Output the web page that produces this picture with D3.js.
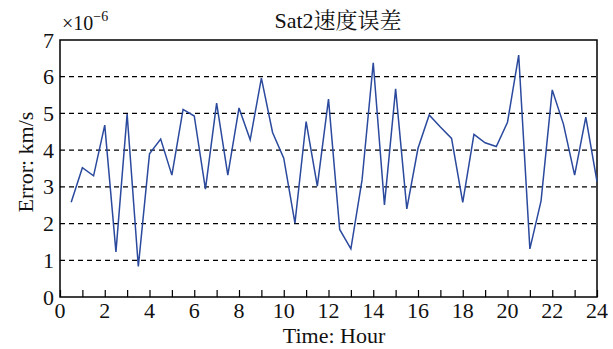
<!DOCTYPE html>
<html>
<head>
<meta charset="utf-8">
<script src="https://cdn.jsdelivr.net/npm/d3@7"></script>
<style>
  html, body { margin: 0; padding: 0; background: #fff; }
  svg { display: block; }
</style>
</head>
<body>
<svg id="chart" width="613" height="349"></svg>
<script>
// Sampling times (hours) and velocity error (×10^-6 km/s)
const hours = [0.5, 1, 1.5, 2, 2.5, 3, 3.5, 4, 4.5, 5, 5.5, 6, 6.5, 7, 7.5, 8,
  8.5, 9, 9.5, 10, 10.5, 11, 11.5, 12, 12.5, 13, 13.5, 14, 14.5, 15, 15.5, 16,
  16.5, 17, 17.5, 18, 18.5, 19, 19.5, 20, 20.5, 21, 21.5, 22, 22.5, 23, 23.5, 24];
const errors = [2.58, 3.52, 3.30, 4.68, 1.23, 4.98, 0.83, 3.90, 4.30, 3.32, 5.11, 4.93,
  2.94, 5.28, 3.32, 5.15, 4.28, 5.96, 4.48, 3.78, 2.01, 4.78, 3.02, 5.39,
  1.84, 1.31, 3.19, 6.38, 2.51, 5.67, 2.40, 4.05, 4.96, 4.63, 4.32, 2.58,
  4.43, 4.20, 4.10, 4.76, 6.59, 1.31, 2.62, 5.64, 4.71, 3.32, 4.90, 3.14];
const xTicks = [0, 2, 4, 6, 8, 10, 12, 14, 16, 18, 20, 22, 24];
const xMinorTicks = d3.range(0, 25, 1);
const yTicks = [0, 1, 2, 3, 4, 5, 6, 7];

const SERIF = '"Liberation Serif", "Times New Roman", "Noto Serif CJK SC", "Noto Sans CJK SC", serif';
const INK = "#111";

const svg = d3.select("#chart");
const plotLeft = 60, plotRight = 597, plotTop = 40, plotBottom = 297;

const x = d3.scaleLinear().domain([0, 24]).range([plotLeft, plotRight]);
const y = d3.scaleLinear().domain([0, 7]).range([plotBottom, plotTop]);

function label(sel) {
  return sel.style("font-family", SERIF).style("font-size", "22px").style("fill", INK);
}

// dashed horizontal grid
svg.append("g")
  .selectAll("line")
  .data(yTicks.filter(v => v > 0 && v < 7))
  .join("line")
  .attr("x1", plotLeft).attr("x2", plotRight)
  .attr("y1", d => y(d)).attr("y2", d => y(d))
  .attr("stroke", "#000").attr("stroke-width", 1.2)
  .attr("stroke-dasharray", "5,4");

// bottom axis: inward ticks every hour, labels every two hours
const xAxis = svg.append("g").attr("transform", `translate(0,${plotBottom})`)
  .call(d3.axisBottom(x).tickValues(xMinorTicks).tickSize(-7).tickFormat(""));
xAxis.select(".domain").remove();
xAxis.selectAll("line").attr("stroke", "#000").attr("stroke-width", 1.2);

svg.append("g")
  .selectAll("text")
  .data(xTicks)
  .join("text")
  .attr("x", d => x(d))
  .attr("y", 318)
  .attr("text-anchor", "middle")
  .call(label)
  .text(d => d);

// left axis labels
const yAxis = svg.append("g").attr("transform", `translate(${plotLeft},0)`)
  .call(d3.axisLeft(y).tickValues(yTicks).tickSize(0).tickPadding(6).tickFormat(d3.format("d")));
yAxis.select(".domain").remove();
yAxis.selectAll("text").call(label);

// plot frame
svg.append("rect")
  .attr("x", plotLeft).attr("y", plotTop)
  .attr("width", plotRight - plotLeft).attr("height", plotBottom - plotTop)
  .attr("fill", "none").attr("stroke", "#000").attr("stroke-width", 1.5);

// error series
const line = d3.line().x((d, i) => x(hours[i])).y(d => y(d));
svg.append("path")
  .datum(errors)
  .attr("d", line)
  .attr("fill", "none")
  .attr("stroke", "#2b4a9e")
  .attr("stroke-width", 1.5)
  .attr("stroke-linejoin", "miter");

// exponent multiplier
const mult = svg.append("text").attr("x", 62).attr("y", 30).call(label).style("font-size", "20px");
mult.append("tspan").text("×10");
mult.append("tspan").style("font-size", "14px").attr("dy", -9).text("−6");

// title
svg.append("text")
  .attr("x", 338).attr("y", 28)
  .attr("text-anchor", "middle")
  .call(label)
  .text("Sat2速度误差");

// axis titles
svg.append("text")
  .attr("x", 334).attr("y", 343)
  .attr("text-anchor", "middle")
  .call(label)
  .text("Time: Hour");

svg.append("text")
  .attr("transform", "translate(33,162) rotate(-90)")
  .attr("text-anchor", "middle")
  .call(label)
  .text("Error: km/s");
</script>
</body>
</html>
